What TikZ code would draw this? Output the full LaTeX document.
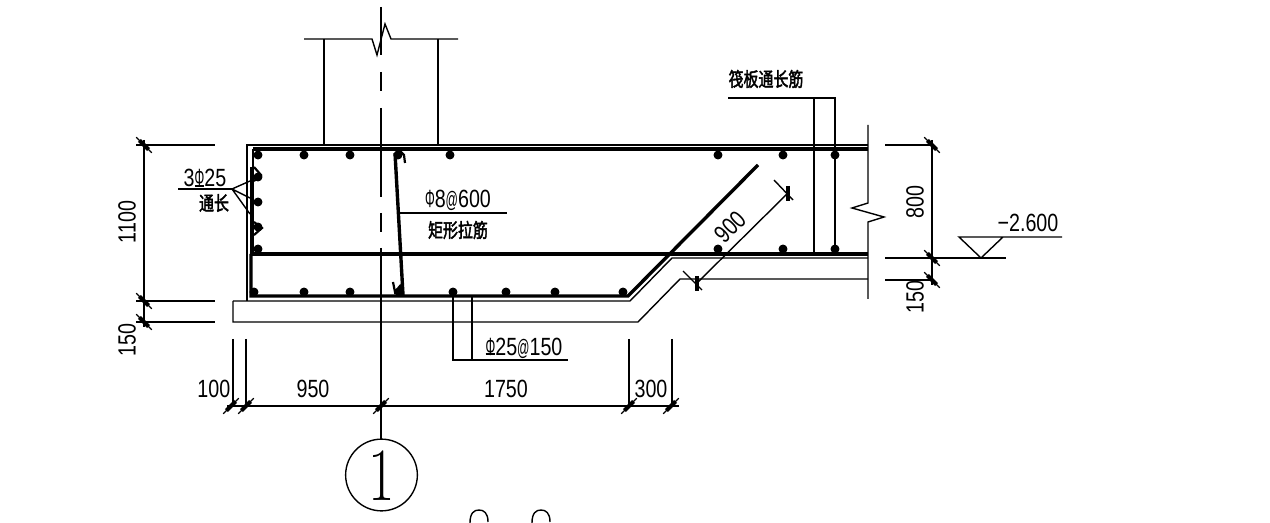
\documentclass[tikz,border=0pt]{standalone}
\usepackage{fontspec}
\setmainfont[FakeStretch=0.79]{Liberation Sans}
\newfontfamily\cjkf[FakeBold=2.5]{Noto Sans CJK SC}
\newfontfamily\lmr{Latin Modern Roman}
\newcommand{\nphi}{\scalebox{0.62}[1]{Φ}}
\newcommand{\nat}{\scalebox{0.62}[0.9]{@}}
\newcommand{\hrbar}{\leavevmode\rlap{\rule[-0.01em]{0.37em}{0.09em}}\nphi}
\newcommand{\cj}[1]{\scalebox{1}[1.3]{#1}}
\tikzset{
  thinl/.style={line width=1.4pt,black},
  bar/.style={line width=3.4pt,black},
  midbar/.style={line width=2.2pt,black},
  dimt/.style={font=\fontsize{25}{25}\selectfont,inner sep=0pt},
  cjkt/.style={font=\cjkf\fontsize{15}{15}\selectfont,inner sep=0pt},
  rebar/.style={circle,fill=black,minimum size=9pt,inner sep=0pt},
}
\newcommand{\tickm}[3]{%
  \draw[line width=4.2pt] ([shift={(#3:6.5)}]#1,#2) -- ([shift={(#3+180:6.5)}]#1,#2);
  \draw[line width=1.2pt] ([shift={(#3:11)}]#1,#2) -- ([shift={(#3+180:11)}]#1,#2);}
\begin{document}
\begin{tikzpicture}[x=1bp,y=-1bp,thinl,line join=miter]
\useasboundingbox (0,0) rectangle (1270,523);
% column
\draw (304,39) -- (372,39) -- (377,55) -- (385,24) -- (391,39) -- (458,39);
\draw (324,39) -- (324,145) (438,39) -- (438,145);
% centre line
\draw (381,7) -- (381,55) (381,72) -- (381,91) (381,108) -- (381,197) (381,213) -- (381,232) (381,248) -- (381,439);
% concrete outline
\draw (868,145) -- (247,145) -- (247,301);
\draw (233,301) -- (630,301) -- (672,258) -- (868,258);
\draw (233,301) -- (233,322) -- (638,322) -- (680,279) -- (868,279);
% reinforcement
\draw[bar] (868,149) -- (253,149);
\draw[midbar] (253,149) -- (253,167);
\draw[line width=4.5pt] (252,167) -- (252,254);
\draw[bar] (251,254) -- (251,296) -- (628,296) -- (758,165);
\draw[bar] (252,254) -- (670,254) -- (868,254);
\draw[bar] (395,153) -- (403,295);
\draw[midbar] (393,282) -- (395,292) -- (400,286) -- (403,295);
\draw[midbar] (395,153) -- (400,151) -- (404,155) -- (405,163);
\draw[midbar] (254,167) -- (261,175) -- (254,181);
\draw[midbar] (254,222) -- (262,228) -- (254,235);
\foreach \x/\y [count=\i] in {258/155,304/155,350/155,398/155,450/155,718/155,783/155,835/155,
  258/177,258/202,258/227,258/249,
  254/292,304/292,350/292,399/292,453/292,506/292,555/292,623/292,
  718/249,783/249,835/249}{
  \node[rebar] (r\i) at (\x,\y) {};
}
% break line
\draw (868,125) -- (868,203) -- (852,208) -- (884,217) -- (868,222) -- (868,299);
% leaders
\draw (728,98) -- (835,98) -- (835,249);
\draw (814,98) -- (814,254);
\node[cjkt] (ta) at (766,79) {\cj{筏板通长筋}};
\draw (399,213) -- (507,213);
\node[dimt] (tb) at (458,200) {\nphi8\nat600};
\node[cjkt] (tc) at (458,230) {\cj{矩形拉筋}};
\draw (453,292) -- (453,360) -- (568,360);
\draw (472,296) -- (472,360);
\node[dimt] (td) at (524,348) {\hrbar25\nat150};
\draw (178,189) -- (232,189);
\draw (232,189) -- (250,181) (232,189) -- (250,198) (232,189) -- (250,214);
\node[dimt] (te) at (205,178) {3\hrbar25};
\node[cjkt] (tf) at (214,203) {\cj{通长}};
% left dimensions
\draw (136,145) -- (215,145) (136,301) -- (215,301) (136,322) -- (215,322);
\draw (144,140) -- (144,327);
\tickm{144}{145}{45}\tickm{144}{301}{45}\tickm{144}{322}{45}
\node[dimt,rotate=90] (d1) at (127,222) {1100};
\node[dimt,rotate=90] (d2) at (127,340) {150};
% bottom dimensions
\draw (233,339) -- (233,405) (246,339) -- (246,405) (629,339) -- (629,405) (672,339) -- (672,405);
\draw (227,406) -- (679,406);
\foreach \x in {231,246,381,629,671}{\tickm{\x}{406}{-45}}
\node[dimt,anchor=east] (d3) at (231,389) {100};
\node[dimt] (d4) at (313,389) {950};
\node[dimt] (d5) at (506,389) {1750};
\node[dimt] (d6) at (651,389) {300};
% right dimensions
\draw (885,145) -- (932,145) (885,258) -- (1006,258) (885,280) -- (932,280);
\draw (932,140) -- (932,285);
\tickm{932}{145}{45}\tickm{932}{258}{45}\tickm{932}{280}{45}
\node[dimt,rotate=90] (d7) at (915,202) {800};
\node[dimt,rotate=90] (d8) at (915,297) {150};
% elevation
\draw (1062,237) -- (959,237) -- (981,258) -- (1003,237);
\node[dimt] (el) at (1028,223) {−2.600};
% 900 dimension
\draw (697,283) -- (788,193);
\draw (774,180) -- (793,200) (683,271) -- (702,290);
\draw[line width=4pt] (788,186) -- (788,201) (697,276) -- (697,291);
\node[dimt] (d9) at (730,227) {\rotatebox{45}{900}};
% axis bubble
\node[circle,draw,minimum size=72pt,inner sep=0pt] (ax) at (381.5,475) {};
\node[inner sep=0pt,font={\lmr\fontsize{72}{72}\selectfont}] (ax1) at (381.5,476) {\scalebox{0.8}[1.05]{1}};
% cropped title
\begin{scope}
\clip (0,0) rectangle (1270,523);
\draw (470,523) .. controls (470,513) and (474,510) .. (479,510) .. controls (484,510) and (488,513) .. (488,522);
\draw (532,523) .. controls (532,513) and (536,510) .. (541,510) .. controls (546,510) and (550,513) .. (550,522);
\end{scope}
\end{tikzpicture}
\end{document}
